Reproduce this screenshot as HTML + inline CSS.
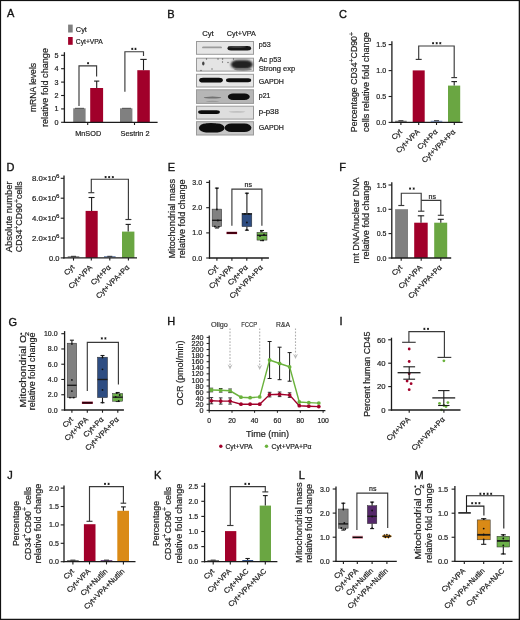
<!DOCTYPE html>
<html><head><meta charset="utf-8"><style>
html,body{margin:0;padding:0;background:#fff;}
body{width:520px;height:620px;overflow:hidden;}
svg{display:block;will-change:transform;font-family:"Liberation Sans", sans-serif;}
text{stroke:#1c1c1c;stroke-width:0.2px;paint-order:stroke;}
</style></head><body>
<svg width="520" height="620" viewBox="0 0 520 620">
<rect x="0" y="0" width="520" height="620" fill="#ffffff"/>
<text transform="translate(7 17.2)" font-size="11" text-anchor="start" fill="#111" style="stroke:#111;stroke-width:0.35px">A</text>
<rect x="68.1" y="24.6" width="4.6" height="7.9" fill="#808080"/>
<rect x="68.1" y="37" width="4.6" height="7.8" fill="#a1002a"/>
<text transform="translate(75.8 31.6)" font-size="7.4" text-anchor="start" fill="#1c1c1c">Cyt</text>
<text transform="translate(75.8 44) scale(0.9104 1)" font-size="7.4" text-anchor="start" fill="#1c1c1c">Cyt+VPA</text>
<line x1="64.4" y1="52.2" x2="64.4" y2="122.9" stroke="#1c1c1c" stroke-width="1.3"/>
<line x1="61.1" y1="122.3" x2="64.4" y2="122.3" stroke="#1c1c1c" stroke-width="1.1"/>
<text transform="translate(58.4 124.89)" font-size="7.2" text-anchor="end" fill="#1c1c1c">0</text>
<line x1="61.1" y1="108.9" x2="64.4" y2="108.9" stroke="#1c1c1c" stroke-width="1.1"/>
<text transform="translate(58.4 111.49)" font-size="7.2" text-anchor="end" fill="#1c1c1c">1</text>
<line x1="61.1" y1="95.5" x2="64.4" y2="95.5" stroke="#1c1c1c" stroke-width="1.1"/>
<text transform="translate(58.4 98.09)" font-size="7.2" text-anchor="end" fill="#1c1c1c">2</text>
<line x1="61.1" y1="82.1" x2="64.4" y2="82.1" stroke="#1c1c1c" stroke-width="1.1"/>
<text transform="translate(58.4 84.69)" font-size="7.2" text-anchor="end" fill="#1c1c1c">3</text>
<line x1="61.1" y1="68.7" x2="64.4" y2="68.7" stroke="#1c1c1c" stroke-width="1.1"/>
<text transform="translate(58.4 71.29)" font-size="7.2" text-anchor="end" fill="#1c1c1c">4</text>
<line x1="61.1" y1="55.3" x2="64.4" y2="55.3" stroke="#1c1c1c" stroke-width="1.1"/>
<text transform="translate(58.4 57.89)" font-size="7.2" text-anchor="end" fill="#1c1c1c">5</text>
<text transform="translate(36.3 87.5) rotate(-90) scale(0.9551 1)" font-size="9" text-anchor="middle" fill="#1c1c1c">mRNA levels</text>
<text transform="translate(48.2 87.5) rotate(-90) scale(1.0120 1)" font-size="9" text-anchor="middle" fill="#1c1c1c">relative fold change</text>
<rect x="73.2" y="108.3" width="12.4" height="14" fill="#808080"/>
<rect x="90.2" y="88" width="12.9" height="34.3" fill="#a1002a"/>
<rect x="120" y="108.3" width="12.4" height="14" fill="#808080"/>
<rect x="137.3" y="70.2" width="12.5" height="52.1" fill="#a1002a"/>
<line x1="75" y1="108.3" x2="84" y2="108.3" stroke="#333" stroke-width="0.8"/>
<line x1="122" y1="108.3" x2="131" y2="108.3" stroke="#333" stroke-width="0.8"/>
<line x1="96.7" y1="88" x2="96.7" y2="81.1" stroke="#1c1c1c" stroke-width="1.1"/>
<line x1="94.1" y1="81.1" x2="99.3" y2="81.1" stroke="#1c1c1c" stroke-width="1.1"/>
<line x1="143.5" y1="70.2" x2="143.5" y2="59.4" stroke="#1c1c1c" stroke-width="1.1"/>
<line x1="140.3" y1="59.4" x2="146.7" y2="59.4" stroke="#1c1c1c" stroke-width="1.1"/>
<polyline points="79,106 79,65.8 96.6,65.8 96.6,76.5" fill="none" stroke="#3a3a3a" stroke-width="1.15" stroke-linejoin="miter"/>
<path d="M88.1 62.1 l0 2.2 M87.15 62.65 l1.9 1.1 M89.05 62.65 l-1.9 1.1" stroke="#1a1a1a" stroke-width="0.9"/>
<polyline points="124.9,91.7 124.9,51.7 143.5,51.7 143.5,56" fill="none" stroke="#3a3a3a" stroke-width="1.15" stroke-linejoin="miter"/>
<path d="M132.3 47.8 l0 2.2 M131.35 48.35 l1.9 1.1 M133.25 48.35 l-1.9 1.1" stroke="#1a1a1a" stroke-width="0.9"/>
<path d="M135.5 47.8 l0 2.2 M134.55 48.35 l1.9 1.1 M136.45 48.35 l-1.9 1.1" stroke="#1a1a1a" stroke-width="0.9"/>
<line x1="63.8" y1="122.3" x2="157.6" y2="122.3" stroke="#1c1c1c" stroke-width="1.3"/>
<line x1="87.7" y1="122.3" x2="87.7" y2="125" stroke="#1c1c1c" stroke-width="1.1"/>
<line x1="134.5" y1="122.3" x2="134.5" y2="125" stroke="#1c1c1c" stroke-width="1.1"/>
<text transform="translate(88.2 136) scale(0.9624 1)" font-size="7.6" text-anchor="middle" fill="#1c1c1c">MnSOD</text>
<text transform="translate(135 136) scale(0.9677 1)" font-size="7.6" text-anchor="middle" fill="#1c1c1c">Sestrin 2</text>
<text transform="translate(167.3 17.6)" font-size="11" text-anchor="start" fill="#111" style="stroke:#111;stroke-width:0.35px">B</text>
<text transform="translate(208 36.2) scale(1.0366 1)" font-size="7.4" text-anchor="middle" fill="#1c1c1c">Cyt</text>
<text transform="translate(241.3 36.2) scale(0.9779 1)" font-size="7.4" text-anchor="middle" fill="#1c1c1c">Cyt+VPA</text>
<rect x="196.5" y="41.5" width="57" height="12.8" fill="#e6e6e6" stroke="#9a9a9a" stroke-width="1"/>
<rect x="196.5" y="58.2" width="57" height="12.9" fill="#e4e4e4" stroke="#9a9a9a" stroke-width="1"/>
<rect x="196.5" y="74.3" width="57" height="12.7" fill="#e6e6e6" stroke="#9a9a9a" stroke-width="1"/>
<rect x="196.5" y="89.8" width="57" height="13.6" fill="#b6b6b6" stroke="#9a9a9a" stroke-width="1"/>
<rect x="196.5" y="106.2" width="57" height="12.9" fill="#dedede" stroke="#9a9a9a" stroke-width="1"/>
<rect x="196.5" y="121.7" width="57" height="13.3" fill="#c6c6c6" stroke="#9a9a9a" stroke-width="1"/>
<defs><filter id="bl" x="-50%" y="-50%" width="200%" height="200%"><feGaussianBlur stdDeviation="0.7"/></filter><filter id="bl2" x="-50%" y="-50%" width="200%" height="200%"><feGaussianBlur stdDeviation="1.1"/></filter></defs>
<rect x="202" y="46.5" width="20" height="1.8" rx="1.44" fill="#8a8a8a" opacity="0.8" filter="url(#bl)"/>
<rect x="227.5" y="46.1" width="23.6" height="4.4" rx="3.52" fill="#161616" opacity="1" filter="url(#bl)"/>
<ellipse cx="237" cy="46.9" rx="9" ry="0.9" fill="#555" opacity="0.8" filter="url(#bl)"/>
<rect x="230.8" y="60" width="22" height="9.2" rx="7.36" fill="#222222" opacity="1" filter="url(#bl2)"/>
<ellipse cx="243" cy="69.3" rx="9" ry="1.4" fill="#777" opacity="0.8" filter="url(#bl)"/>
<ellipse cx="203.3" cy="63.5" rx="1.2" ry="2" fill="#333" opacity="0.9" filter="url(#bl)"/>
<ellipse cx="206.5" cy="59" rx="0.7" ry="0.7" fill="#444" opacity="0.8" filter="url(#bl)"/>
<ellipse cx="218" cy="59" rx="0.7" ry="0.7" fill="#444" opacity="0.8" filter="url(#bl)"/>
<ellipse cx="222.6" cy="59" rx="0.7" ry="0.7" fill="#444" opacity="0.8" filter="url(#bl)"/>
<ellipse cx="233.5" cy="59" rx="0.7" ry="0.7" fill="#444" opacity="0.8" filter="url(#bl)"/>
<ellipse cx="222.5" cy="62" rx="0.7" ry="0.7" fill="#444" opacity="0.8" filter="url(#bl)"/>
<ellipse cx="228" cy="62.5" rx="0.7" ry="0.7" fill="#444" opacity="0.8" filter="url(#bl)"/>
<ellipse cx="201" cy="70.5" rx="0.7" ry="0.7" fill="#444" opacity="0.8" filter="url(#bl)"/>
<ellipse cx="212" cy="69" rx="0.7" ry="0.7" fill="#444" opacity="0.8" filter="url(#bl)"/>
<rect x="199.2" y="77.8" width="23.6" height="4.8" rx="3.84" fill="#0a0a0a" opacity="1" filter="url(#bl)"/>
<rect x="226" y="78.3" width="25.2" height="3.9" rx="3.12" fill="#0a0a0a" opacity="1" filter="url(#bl)"/>
<ellipse cx="212.5" cy="97.6" rx="8.8" ry="1" fill="#6a6a6a" opacity="0.9" filter="url(#bl)"/>
<ellipse cx="212.5" cy="101.3" rx="7" ry="0.6" fill="#888" opacity="0.6" filter="url(#bl)"/>
<rect x="227.9" y="93.6" width="21.8" height="6.4" rx="5.12" fill="#080808" opacity="1" filter="url(#bl)"/>
<rect x="198.1" y="110.2" width="21.8" height="3.8" rx="3.04" fill="#101010" opacity="1" filter="url(#bl)"/>
<ellipse cx="237" cy="111.8" rx="8.5" ry="0.9" fill="#bdbdbd" opacity="0.9" filter="url(#bl)"/>
<rect x="198.9" y="123.4" width="25.6" height="9" rx="7.2" fill="#0c0c0c" opacity="1" filter="url(#bl)"/>
<rect x="224.6" y="123.5" width="26.8" height="8.6" rx="6.88" fill="#0c0c0c" opacity="1" filter="url(#bl)"/>
<ellipse cx="211" cy="124.6" rx="6" ry="1.5" fill="#0c0c0c" opacity="1" filter="url(#bl)"/>
<text transform="translate(258.8 47.3) scale(1.0000 1)" font-size="7.2" text-anchor="start" fill="#1c1c1c">p53</text>
<text transform="translate(258.8 61.6) scale(1.0004 1)" font-size="7.2" text-anchor="start" fill="#1c1c1c">Ac p53</text>
<text transform="translate(258.8 71.4) scale(1.0470 1)" font-size="7.2" text-anchor="start" fill="#1c1c1c">Strong exp</text>
<text transform="translate(258.8 83.8) scale(0.9780 1)" font-size="7.2" text-anchor="start" fill="#1c1c1c">GAPDH</text>
<text transform="translate(258.8 98) scale(0.9667 1)" font-size="7.2" text-anchor="start" fill="#1c1c1c">p21</text>
<text transform="translate(258.8 113.8) scale(1.0875 1)" font-size="7.2" text-anchor="start" fill="#1c1c1c">p-p38</text>
<text transform="translate(258.8 130.3) scale(0.9780 1)" font-size="7.2" text-anchor="start" fill="#1c1c1c">GAPDH</text>
<text transform="translate(339 18)" font-size="11" text-anchor="start" fill="#111" style="stroke:#111;stroke-width:0.35px">C</text>
<line x1="391.9" y1="41.3" x2="391.9" y2="122.9" stroke="#1c1c1c" stroke-width="1.3"/>
<line x1="388.6" y1="122.4" x2="391.9" y2="122.4" stroke="#1c1c1c" stroke-width="1.1"/>
<text transform="translate(386.1 124.92)" font-size="7" text-anchor="end" fill="#1c1c1c">0.0</text>
<line x1="388.6" y1="96.5" x2="391.9" y2="96.5" stroke="#1c1c1c" stroke-width="1.1"/>
<text transform="translate(386.1 99.02)" font-size="7" text-anchor="end" fill="#1c1c1c">0.5</text>
<line x1="388.6" y1="70.6" x2="391.9" y2="70.6" stroke="#1c1c1c" stroke-width="1.1"/>
<text transform="translate(386.1 73.12)" font-size="7" text-anchor="end" fill="#1c1c1c">1.0</text>
<line x1="388.6" y1="44.6" x2="391.9" y2="44.6" stroke="#1c1c1c" stroke-width="1.1"/>
<text transform="translate(386.1 47.12)" font-size="7" text-anchor="end" fill="#1c1c1c">1.5</text>
<text transform="translate(357.3 82.1) rotate(-90) scale(0.9983 1)" font-size="8.8" text-anchor="middle" fill="#1c1c1c"><tspan font-size="8.8" dy="0">Percentage CD34</tspan><tspan font-size="6.86" dy="-3.17">+</tspan><tspan font-size="8.8" dy="3.17">CD90</tspan><tspan font-size="6.86" dy="-3.17">+</tspan></text>
<text transform="translate(369.3 82.1) rotate(-90) scale(1.0369 1)" font-size="8.8" text-anchor="middle" fill="#1c1c1c">cells relative fold change</text>
<rect x="395.1" y="120.8" width="11.6" height="0.9" fill="#555"/>
<line x1="398.4" y1="120.7" x2="403.4" y2="120.7" stroke="#222" stroke-width="0.9"/>
<rect x="412.7" y="70.4" width="12" height="52" fill="#a1002a"/>
<rect x="430.7" y="120.8" width="11.6" height="0.9" fill="#6080c0"/>
<line x1="434" y1="120.7" x2="439" y2="120.7" stroke="#222" stroke-width="0.9"/>
<rect x="448" y="85.6" width="12.2" height="36.8" fill="#6aa642"/>
<line x1="454.2" y1="85.6" x2="454.2" y2="81.6" stroke="#1c1c1c" stroke-width="1.1"/>
<line x1="451.4" y1="81.6" x2="457" y2="81.6" stroke="#1c1c1c" stroke-width="1.1"/>
<polyline points="418.7,59.4 418.7,46 454.2,46 454.2,77.6" fill="none" stroke="#3a3a3a" stroke-width="1.15" stroke-linejoin="miter"/>
<line x1="415.7" y1="59.4" x2="421.7" y2="59.4" stroke="#3a3a3a" stroke-width="1.15"/>
<line x1="451.3" y1="77.6" x2="457.1" y2="77.6" stroke="#3a3a3a" stroke-width="1.15"/>
<path d="M433.1 42.1 l0 2.2 M432.15 42.65 l1.9 1.1 M434.05 42.65 l-1.9 1.1" stroke="#1a1a1a" stroke-width="0.9"/>
<path d="M436.7 42.1 l0 2.2 M435.75 42.65 l1.9 1.1 M437.65 42.65 l-1.9 1.1" stroke="#1a1a1a" stroke-width="0.9"/>
<path d="M440.3 42.1 l0 2.2 M439.35 42.65 l1.9 1.1 M441.25 42.65 l-1.9 1.1" stroke="#1a1a1a" stroke-width="0.9"/>
<line x1="391.3" y1="122.3" x2="462.6" y2="122.3" stroke="#1c1c1c" stroke-width="1.3"/>
<line x1="400.9" y1="122.3" x2="400.9" y2="125" stroke="#1c1c1c" stroke-width="1.1"/>
<line x1="418.7" y1="122.3" x2="418.7" y2="125" stroke="#1c1c1c" stroke-width="1.1"/>
<line x1="436.5" y1="122.3" x2="436.5" y2="125" stroke="#1c1c1c" stroke-width="1.1"/>
<line x1="454.3" y1="122.3" x2="454.3" y2="125" stroke="#1c1c1c" stroke-width="1.1"/>
<text transform="translate(402.4 132.3) rotate(-45)" font-size="7.5" text-anchor="end" fill="#1c1c1c">Cyt</text>
<text transform="translate(420.2 132.3) rotate(-45)" font-size="7.5" text-anchor="end" fill="#1c1c1c">Cyt+VPA</text>
<text transform="translate(438 132.3) rotate(-45)" font-size="7.5" text-anchor="end" fill="#1c1c1c">Cyt+P&#945;</text>
<text transform="translate(455.8 132.3) rotate(-45)" font-size="7.5" text-anchor="end" fill="#1c1c1c">Cyt+VPA+P&#945;</text>
<text transform="translate(6.6 171.3)" font-size="11" text-anchor="start" fill="#111" style="stroke:#111;stroke-width:0.35px">D</text>
<line x1="64" y1="175.6" x2="64" y2="258.5" stroke="#1c1c1c" stroke-width="1.3"/>
<line x1="60.7" y1="257.9" x2="64" y2="257.9" stroke="#1c1c1c" stroke-width="1.1"/>
<line x1="60.7" y1="238.1" x2="64" y2="238.1" stroke="#1c1c1c" stroke-width="1.1"/>
<line x1="60.7" y1="218.2" x2="64" y2="218.2" stroke="#1c1c1c" stroke-width="1.1"/>
<line x1="60.7" y1="198.2" x2="64" y2="198.2" stroke="#1c1c1c" stroke-width="1.1"/>
<line x1="60.7" y1="178.3" x2="64" y2="178.3" stroke="#1c1c1c" stroke-width="1.1"/>
<text transform="translate(59.5 260.6)" font-size="7.5" text-anchor="end" fill="#1c1c1c">0.0</text>
<text transform="translate(59.5 240.8) scale(1.0446 1)" font-size="7.5" text-anchor="end" fill="#1c1c1c"><tspan font-size="7.5" dy="0">2.0&#215;10</tspan><tspan font-size="5.85" dy="-2.7">6</tspan></text>
<text transform="translate(59.5 220.9) scale(1.0446 1)" font-size="7.5" text-anchor="end" fill="#1c1c1c"><tspan font-size="7.5" dy="0">4.0&#215;10</tspan><tspan font-size="5.85" dy="-2.7">6</tspan></text>
<text transform="translate(59.5 200.9) scale(1.0446 1)" font-size="7.5" text-anchor="end" fill="#1c1c1c"><tspan font-size="7.5" dy="0">6.0&#215;10</tspan><tspan font-size="5.85" dy="-2.7">6</tspan></text>
<text transform="translate(59.5 181) scale(1.0446 1)" font-size="7.5" text-anchor="end" fill="#1c1c1c"><tspan font-size="7.5" dy="0">8.0&#215;10</tspan><tspan font-size="5.85" dy="-2.7">6</tspan></text>
<text transform="translate(11.6 216.8) rotate(-90) scale(1.0674 1)" font-size="8.8" text-anchor="middle" fill="#1c1c1c">Absolute number</text>
<text transform="translate(22.2 216.8) rotate(-90) scale(1.0051 1)" font-size="8.8" text-anchor="middle" fill="#1c1c1c"><tspan font-size="8.8" dy="0">CD34</tspan><tspan font-size="6.86" dy="-3.17">+</tspan><tspan font-size="8.8" dy="3.17">CD90</tspan><tspan font-size="6.86" dy="-3.17">+</tspan><tspan font-size="8.8" dy="3.17">cells</tspan></text>
<rect x="67.7" y="256.4" width="11.6" height="0.9" fill="#555"/>
<line x1="71" y1="256.3" x2="76" y2="256.3" stroke="#222" stroke-width="0.9"/>
<rect x="85.6" y="210.9" width="12.1" height="47" fill="#a1002a"/>
<rect x="104" y="256.4" width="11.6" height="0.9" fill="#2e4d82"/>
<line x1="107.3" y1="256.3" x2="112.3" y2="256.3" stroke="#222" stroke-width="0.9"/>
<rect x="122" y="231.6" width="12.4" height="26.3" fill="#6aa642"/>
<line x1="91.6" y1="210.9" x2="91.6" y2="197.5" stroke="#1c1c1c" stroke-width="1.1"/>
<line x1="88.6" y1="197.5" x2="94.6" y2="197.5" stroke="#1c1c1c" stroke-width="1.1"/>
<line x1="128.2" y1="231.6" x2="128.2" y2="224.4" stroke="#1c1c1c" stroke-width="1.1"/>
<line x1="125.6" y1="224.4" x2="130.8" y2="224.4" stroke="#1c1c1c" stroke-width="1.1"/>
<polyline points="91.3,192.7 91.3,179.2 128.4,179.2 128.4,219.5" fill="none" stroke="#3a3a3a" stroke-width="1.15" stroke-linejoin="miter"/>
<line x1="88.3" y1="192.7" x2="94.3" y2="192.7" stroke="#3a3a3a" stroke-width="1.15"/>
<line x1="125.4" y1="219.5" x2="131.4" y2="219.5" stroke="#3a3a3a" stroke-width="1.15"/>
<path d="M105.6 176 l0 2.2 M104.65 176.55 l1.9 1.1 M106.55 176.55 l-1.9 1.1" stroke="#1a1a1a" stroke-width="0.9"/>
<path d="M109.2 176 l0 2.2 M108.25 176.55 l1.9 1.1 M110.15 176.55 l-1.9 1.1" stroke="#1a1a1a" stroke-width="0.9"/>
<path d="M112.8 176 l0 2.2 M111.85 176.55 l1.9 1.1 M113.75 176.55 l-1.9 1.1" stroke="#1a1a1a" stroke-width="0.9"/>
<line x1="63.4" y1="257.9" x2="137" y2="257.9" stroke="#1c1c1c" stroke-width="1.3"/>
<line x1="73.5" y1="257.9" x2="73.5" y2="260.6" stroke="#1c1c1c" stroke-width="1.1"/>
<line x1="91.3" y1="257.9" x2="91.3" y2="260.6" stroke="#1c1c1c" stroke-width="1.1"/>
<line x1="109.8" y1="257.9" x2="109.8" y2="260.6" stroke="#1c1c1c" stroke-width="1.1"/>
<line x1="128.4" y1="257.9" x2="128.4" y2="260.6" stroke="#1c1c1c" stroke-width="1.1"/>
<text transform="translate(75 267.9) rotate(-45)" font-size="7.5" text-anchor="end" fill="#1c1c1c">Cyt</text>
<text transform="translate(92.8 267.9) rotate(-45)" font-size="7.5" text-anchor="end" fill="#1c1c1c">Cyt+VPA</text>
<text transform="translate(111.3 267.9) rotate(-45)" font-size="7.5" text-anchor="end" fill="#1c1c1c">Cyt+P&#945;</text>
<text transform="translate(129.9 267.9) rotate(-45)" font-size="7.5" text-anchor="end" fill="#1c1c1c">Cyt+VPA+P&#945;</text>
<text transform="translate(167.8 170.6)" font-size="11" text-anchor="start" fill="#111" style="stroke:#111;stroke-width:0.35px">E</text>
<line x1="209.5" y1="180.2" x2="209.5" y2="258.6" stroke="#1c1c1c" stroke-width="1.3"/>
<line x1="206.2" y1="258" x2="209.5" y2="258" stroke="#1c1c1c" stroke-width="1.1"/>
<text transform="translate(202.1 260.52)" font-size="7" text-anchor="end" fill="#1c1c1c">0.0</text>
<line x1="206.2" y1="232.9" x2="209.5" y2="232.9" stroke="#1c1c1c" stroke-width="1.1"/>
<text transform="translate(202.1 235.42)" font-size="7" text-anchor="end" fill="#1c1c1c">1.0</text>
<line x1="206.2" y1="207.7" x2="209.5" y2="207.7" stroke="#1c1c1c" stroke-width="1.1"/>
<text transform="translate(202.1 210.22)" font-size="7" text-anchor="end" fill="#1c1c1c">2.0</text>
<line x1="206.2" y1="182.4" x2="209.5" y2="182.4" stroke="#1c1c1c" stroke-width="1.1"/>
<text transform="translate(202.1 184.92)" font-size="7" text-anchor="end" fill="#1c1c1c">3.0</text>
<text transform="translate(174.6 218.8) rotate(-90) scale(1.0530 1)" font-size="8.8" text-anchor="middle" fill="#1c1c1c">Mitochondrial mass</text>
<text transform="translate(185.3 218.8) rotate(-90) scale(1.0354 1)" font-size="8.8" text-anchor="middle" fill="#1c1c1c">relative fold change</text>
<line x1="216.9" y1="188.1" x2="216.9" y2="209.1" stroke="#1c1c1c" stroke-width="1.1"/>
<line x1="216.9" y1="226.6" x2="216.9" y2="228" stroke="#1c1c1c" stroke-width="1.1"/>
<line x1="214.9" y1="188.1" x2="218.9" y2="188.1" stroke="#1c1c1c" stroke-width="1.1"/>
<line x1="214.9" y1="228" x2="218.9" y2="228" stroke="#1c1c1c" stroke-width="1.1"/>
<rect x="212.1" y="209.1" width="9.6" height="17.5" fill="#808080" stroke="#2a2a2a" stroke-width="0.5"/>
<line x1="212.1" y1="220.3" x2="221.7" y2="220.3" stroke="#1c1c1c" stroke-width="1.4"/>
<circle cx="216.9" cy="188.3" r="0.9" fill="#111"/>
<circle cx="216.9" cy="209.5" r="0.9" fill="#111"/>
<circle cx="214.9" cy="226.5" r="0.9" fill="#111"/>
<circle cx="218.9" cy="226.8" r="0.9" fill="#111"/>
<circle cx="217.9" cy="220.5" r="0.9" fill="#111"/>
<rect x="226.5" y="231.8" width="10.6" height="2.3" fill="#7a0020"/>
<line x1="227" y1="232.9" x2="236.6" y2="232.9" stroke="#2a0008" stroke-width="1.3"/>
<line x1="246.9" y1="193.2" x2="246.9" y2="213.5" stroke="#1c1c1c" stroke-width="1.1"/>
<line x1="246.9" y1="226.6" x2="246.9" y2="230.2" stroke="#1c1c1c" stroke-width="1.1"/>
<line x1="244.9" y1="193.2" x2="248.9" y2="193.2" stroke="#1c1c1c" stroke-width="1.1"/>
<line x1="244.9" y1="230.2" x2="248.9" y2="230.2" stroke="#1c1c1c" stroke-width="1.1"/>
<rect x="242" y="213.5" width="9.8" height="13.1" fill="#2e4d82" stroke="#2a2a2a" stroke-width="0.5"/>
<line x1="242" y1="214" x2="251.8" y2="214" stroke="#1c1c1c" stroke-width="1.4"/>
<circle cx="246.9" cy="193.4" r="0.9" fill="#111"/>
<circle cx="244.9" cy="213.8" r="0.9" fill="#111"/>
<circle cx="248.9" cy="213.8" r="0.9" fill="#111"/>
<circle cx="246.9" cy="222.5" r="0.9" fill="#111"/>
<circle cx="246.9" cy="229.8" r="0.9" fill="#111"/>
<line x1="262" y1="230.5" x2="262" y2="232.4" stroke="#1c1c1c" stroke-width="1.1"/>
<line x1="262" y1="240.1" x2="262" y2="240.6" stroke="#1c1c1c" stroke-width="1.1"/>
<line x1="260" y1="230.5" x2="264" y2="230.5" stroke="#1c1c1c" stroke-width="1.1"/>
<line x1="260" y1="240.6" x2="264" y2="240.6" stroke="#1c1c1c" stroke-width="1.1"/>
<rect x="257" y="232.4" width="10" height="7.7" fill="#6cb04a" stroke="#2a2a2a" stroke-width="0.5"/>
<line x1="257" y1="235.3" x2="267" y2="235.3" stroke="#1c1c1c" stroke-width="1.4"/>
<circle cx="261" cy="231" r="0.9" fill="#111"/>
<circle cx="263" cy="240.3" r="0.9" fill="#111"/>
<circle cx="260" cy="236" r="0.9" fill="#111"/>
<circle cx="264" cy="234.5" r="0.9" fill="#111"/>
<polyline points="231.9,225.8 231.9,189.1 261.9,189.1 261.9,225.8" fill="none" stroke="#3a3a3a" stroke-width="1.15" stroke-linejoin="miter"/>
<text transform="translate(248.2 187.3)" font-size="7" text-anchor="middle" fill="#1c1c1c">ns</text>
<line x1="208.9" y1="258" x2="268.9" y2="258" stroke="#1c1c1c" stroke-width="1.3"/>
<line x1="216.9" y1="258" x2="216.9" y2="260.7" stroke="#1c1c1c" stroke-width="1.1"/>
<line x1="231.9" y1="258" x2="231.9" y2="260.7" stroke="#1c1c1c" stroke-width="1.1"/>
<line x1="246.8" y1="258" x2="246.8" y2="260.7" stroke="#1c1c1c" stroke-width="1.1"/>
<line x1="261.9" y1="258" x2="261.9" y2="260.7" stroke="#1c1c1c" stroke-width="1.1"/>
<text transform="translate(218.4 268) rotate(-45)" font-size="7.5" text-anchor="end" fill="#1c1c1c">Cyt</text>
<text transform="translate(233.4 268) rotate(-45)" font-size="7.5" text-anchor="end" fill="#1c1c1c">Cyt+VPA</text>
<text transform="translate(248.3 268) rotate(-45)" font-size="7.5" text-anchor="end" fill="#1c1c1c">Cyt+P&#945;</text>
<text transform="translate(263.4 268) rotate(-45)" font-size="7.5" text-anchor="end" fill="#1c1c1c">Cyt+VPA+P&#945;</text>
<text transform="translate(339.2 170.6)" font-size="11" text-anchor="start" fill="#111" style="stroke:#111;stroke-width:0.35px">F</text>
<line x1="391.8" y1="182.2" x2="391.8" y2="258.6" stroke="#1c1c1c" stroke-width="1.3"/>
<line x1="388.5" y1="258" x2="391.8" y2="258" stroke="#1c1c1c" stroke-width="1.1"/>
<text transform="translate(386.4 260.52)" font-size="7" text-anchor="end" fill="#1c1c1c">0.0</text>
<line x1="388.5" y1="233.6" x2="391.8" y2="233.6" stroke="#1c1c1c" stroke-width="1.1"/>
<text transform="translate(386.4 236.12)" font-size="7" text-anchor="end" fill="#1c1c1c">0.5</text>
<line x1="388.5" y1="209.3" x2="391.8" y2="209.3" stroke="#1c1c1c" stroke-width="1.1"/>
<text transform="translate(386.4 211.82)" font-size="7" text-anchor="end" fill="#1c1c1c">1.0</text>
<line x1="388.5" y1="185" x2="391.8" y2="185" stroke="#1c1c1c" stroke-width="1.1"/>
<text transform="translate(386.4 187.52)" font-size="7" text-anchor="end" fill="#1c1c1c">1.5</text>
<text transform="translate(358.6 220.4) rotate(-90) scale(1.0372 1)" font-size="8.8" text-anchor="middle" fill="#1c1c1c">mt DNA/nuclear DNA</text>
<text transform="translate(368.6 220) rotate(-90) scale(1.0354 1)" font-size="8.8" text-anchor="middle" fill="#1c1c1c">relative fold change</text>
<rect x="395.1" y="209.2" width="12.9" height="48.8" fill="#808080"/>
<rect x="414.2" y="222.7" width="13.5" height="35.3" fill="#a1002a"/>
<rect x="434.2" y="222.7" width="13" height="35.3" fill="#6aa642"/>
<line x1="421" y1="222.7" x2="421" y2="215.8" stroke="#1c1c1c" stroke-width="1.1"/>
<line x1="417.8" y1="215.8" x2="424.2" y2="215.8" stroke="#1c1c1c" stroke-width="1.1"/>
<line x1="440.8" y1="222.7" x2="440.8" y2="219.3" stroke="#1c1c1c" stroke-width="1.1"/>
<line x1="437.8" y1="219.3" x2="443.8" y2="219.3" stroke="#1c1c1c" stroke-width="1.1"/>
<polyline points="401.3,205.5 401.3,193.2 421.2,193.2 421.2,211.2" fill="none" stroke="#3a3a3a" stroke-width="1.15" stroke-linejoin="miter"/>
<line x1="398.3" y1="205.5" x2="404.3" y2="205.5" stroke="#3a3a3a" stroke-width="1.15"/>
<line x1="418" y1="211.2" x2="424.4" y2="211.2" stroke="#3a3a3a" stroke-width="1.15"/>
<polyline points="421.2,200.4 421.2,200.4 440.8,200.4 440.8,215.3" fill="none" stroke="#3a3a3a" stroke-width="1.15" stroke-linejoin="miter"/>
<line x1="437.8" y1="215.3" x2="443.8" y2="215.3" stroke="#3a3a3a" stroke-width="1.15"/>
<path d="M410.1 187.5 l0 2.2 M409.15 188.05 l1.9 1.1 M411.05 188.05 l-1.9 1.1" stroke="#1a1a1a" stroke-width="0.9"/>
<path d="M413.7 187.5 l0 2.2 M412.75 188.05 l1.9 1.1 M414.65 188.05 l-1.9 1.1" stroke="#1a1a1a" stroke-width="0.9"/>
<text transform="translate(432.2 199.2)" font-size="7" text-anchor="middle" fill="#1c1c1c">ns</text>
<line x1="391.2" y1="258" x2="451.2" y2="258" stroke="#1c1c1c" stroke-width="1.3"/>
<line x1="401.2" y1="258" x2="401.2" y2="260.7" stroke="#1c1c1c" stroke-width="1.1"/>
<line x1="421.2" y1="258" x2="421.2" y2="260.7" stroke="#1c1c1c" stroke-width="1.1"/>
<line x1="440.8" y1="258" x2="440.8" y2="260.7" stroke="#1c1c1c" stroke-width="1.1"/>
<text transform="translate(402.7 268) rotate(-45)" font-size="7.5" text-anchor="end" fill="#1c1c1c">Cyt</text>
<text transform="translate(422.7 268) rotate(-45)" font-size="7.5" text-anchor="end" fill="#1c1c1c">Cyt+VPA</text>
<text transform="translate(442.3 268) rotate(-45)" font-size="7.5" text-anchor="end" fill="#1c1c1c">Cyt+VPA+P&#945;</text>
<text transform="translate(8.4 325.6)" font-size="11" text-anchor="start" fill="#111" style="stroke:#111;stroke-width:0.35px">G</text>
<line x1="64.6" y1="331.1" x2="64.6" y2="410.6" stroke="#1c1c1c" stroke-width="1.3"/>
<line x1="61.3" y1="410" x2="64.6" y2="410" stroke="#1c1c1c" stroke-width="1.1"/>
<text transform="translate(57.6 412.52)" font-size="7" text-anchor="end" fill="#1c1c1c">0.0</text>
<line x1="61.3" y1="394.74" x2="64.6" y2="394.74" stroke="#1c1c1c" stroke-width="1.1"/>
<text transform="translate(57.6 397.26)" font-size="7" text-anchor="end" fill="#1c1c1c">2.0</text>
<line x1="61.3" y1="379.48" x2="64.6" y2="379.48" stroke="#1c1c1c" stroke-width="1.1"/>
<text transform="translate(57.6 382)" font-size="7" text-anchor="end" fill="#1c1c1c">4.0</text>
<line x1="61.3" y1="364.22" x2="64.6" y2="364.22" stroke="#1c1c1c" stroke-width="1.1"/>
<text transform="translate(57.6 366.74)" font-size="7" text-anchor="end" fill="#1c1c1c">6.0</text>
<line x1="61.3" y1="348.96" x2="64.6" y2="348.96" stroke="#1c1c1c" stroke-width="1.1"/>
<text transform="translate(57.6 351.48)" font-size="7" text-anchor="end" fill="#1c1c1c">8.0</text>
<line x1="61.3" y1="333.7" x2="64.6" y2="333.7" stroke="#1c1c1c" stroke-width="1.1"/>
<text transform="translate(57.6 336.22)" font-size="7" text-anchor="end" fill="#1c1c1c">10.0</text>
<text transform="translate(25.7 369.6) rotate(-90) scale(1.1750 1)" font-size="8.8" text-anchor="middle" fill="#1c1c1c">Mitochondrial O<tspan font-size="6.2" dy="-3.2">&#8226;</tspan><tspan font-size="6.2" dx="-2.9" dy="6.4">2</tspan></text>
<text transform="translate(35.4 371.4) rotate(-90) scale(1.0223 1)" font-size="8.8" text-anchor="middle" fill="#1c1c1c">relative fold change</text>
<line x1="71.9" y1="340.2" x2="71.9" y2="343.2" stroke="#1c1c1c" stroke-width="1.1"/>
<line x1="71.9" y1="397.6" x2="71.9" y2="397.6" stroke="#1c1c1c" stroke-width="1.1"/>
<line x1="69.9" y1="340.2" x2="73.9" y2="340.2" stroke="#1c1c1c" stroke-width="1.1"/>
<line x1="69.9" y1="397.6" x2="73.9" y2="397.6" stroke="#1c1c1c" stroke-width="1.1"/>
<rect x="67.2" y="343.2" width="9.4" height="54.4" fill="#808080" stroke="#2a2a2a" stroke-width="0.5"/>
<line x1="67.2" y1="385.3" x2="76.6" y2="385.3" stroke="#1c1c1c" stroke-width="1.4"/>
<circle cx="71.9" cy="343.9" r="0.9" fill="#111"/>
<circle cx="71.9" cy="379.9" r="0.9" fill="#111"/>
<circle cx="71.9" cy="391.1" r="0.9" fill="#111"/>
<circle cx="69.9" cy="397.6" r="0.9" fill="#111"/>
<circle cx="73.9" cy="397.6" r="0.9" fill="#111"/>
<rect x="81.9" y="401.6" width="10.9" height="2.3" fill="#7a0020"/>
<line x1="82.4" y1="402.8" x2="92.4" y2="402.8" stroke="#1a0006" stroke-width="1.3"/>
<line x1="102.5" y1="355.5" x2="102.5" y2="357.2" stroke="#1c1c1c" stroke-width="1.1"/>
<line x1="102.5" y1="397.6" x2="102.5" y2="402.7" stroke="#1c1c1c" stroke-width="1.1"/>
<line x1="100.5" y1="355.5" x2="104.5" y2="355.5" stroke="#1c1c1c" stroke-width="1.1"/>
<line x1="100.5" y1="402.7" x2="104.5" y2="402.7" stroke="#1c1c1c" stroke-width="1.1"/>
<rect x="97.5" y="357.2" width="10" height="40.4" fill="#2e4d82" stroke="#2a2a2a" stroke-width="0.5"/>
<line x1="97.5" y1="379.5" x2="107.5" y2="379.5" stroke="#1c1c1c" stroke-width="1.4"/>
<circle cx="102.5" cy="357.5" r="0.9" fill="#111"/>
<circle cx="102.5" cy="369.3" r="0.9" fill="#111"/>
<circle cx="102.5" cy="389.9" r="0.9" fill="#111"/>
<circle cx="102.5" cy="402.5" r="0.9" fill="#111"/>
<line x1="117.7" y1="392.5" x2="117.7" y2="393.5" stroke="#1c1c1c" stroke-width="1.1"/>
<line x1="117.7" y1="401.2" x2="117.7" y2="401.5" stroke="#1c1c1c" stroke-width="1.1"/>
<line x1="115.7" y1="392.5" x2="119.7" y2="392.5" stroke="#1c1c1c" stroke-width="1.1"/>
<line x1="115.7" y1="401.5" x2="119.7" y2="401.5" stroke="#1c1c1c" stroke-width="1.1"/>
<rect x="112.7" y="393.5" width="10" height="7.7" fill="#6cb04a" stroke="#2a2a2a" stroke-width="0.5"/>
<line x1="112.7" y1="397.2" x2="122.7" y2="397.2" stroke="#1c1c1c" stroke-width="1.4"/>
<circle cx="116.7" cy="393" r="0.9" fill="#111"/>
<circle cx="118.7" cy="401" r="0.9" fill="#111"/>
<circle cx="115.7" cy="397" r="0.9" fill="#111"/>
<circle cx="119.7" cy="395" r="0.9" fill="#111"/>
<polyline points="87.3,391 87.3,342.4 118.4,342.4 118.4,384.5" fill="none" stroke="#3a3a3a" stroke-width="1.15" stroke-linejoin="miter"/>
<path d="M101.8 337.3 l0 2.2 M100.85 337.85 l1.9 1.1 M102.75 337.85 l-1.9 1.1" stroke="#1a1a1a" stroke-width="0.9"/>
<path d="M105.4 337.3 l0 2.2 M104.45 337.85 l1.9 1.1 M106.35 337.85 l-1.9 1.1" stroke="#1a1a1a" stroke-width="0.9"/>
<line x1="64" y1="410" x2="123.9" y2="410" stroke="#1c1c1c" stroke-width="1.3"/>
<line x1="71.9" y1="410" x2="71.9" y2="412.7" stroke="#1c1c1c" stroke-width="1.1"/>
<line x1="87.3" y1="410" x2="87.3" y2="412.7" stroke="#1c1c1c" stroke-width="1.1"/>
<line x1="102.5" y1="410" x2="102.5" y2="412.7" stroke="#1c1c1c" stroke-width="1.1"/>
<line x1="117.8" y1="410" x2="117.8" y2="412.7" stroke="#1c1c1c" stroke-width="1.1"/>
<text transform="translate(73.4 420) rotate(-45)" font-size="7.5" text-anchor="end" fill="#1c1c1c">Cyt</text>
<text transform="translate(88.8 420) rotate(-45)" font-size="7.5" text-anchor="end" fill="#1c1c1c">Cyt+VPA</text>
<text transform="translate(104 420) rotate(-45)" font-size="7.5" text-anchor="end" fill="#1c1c1c">Cyt+P&#945;</text>
<text transform="translate(119.3 420) rotate(-45)" font-size="7.5" text-anchor="end" fill="#1c1c1c">Cyt+VPA+P&#945;</text>
<text transform="translate(167.2 325.4)" font-size="11" text-anchor="start" fill="#111" style="stroke:#111;stroke-width:0.35px">H</text>
<line x1="209.2" y1="335.4" x2="209.2" y2="410.8" stroke="#1c1c1c" stroke-width="1.2"/>
<line x1="206.6" y1="410.3" x2="209.2" y2="410.3" stroke="#1c1c1c" stroke-width="1"/>
<text transform="translate(203.4 412.9)" font-size="7.2" text-anchor="end" fill="#1c1c1c">0</text>
<line x1="206.6" y1="404.23" x2="209.2" y2="404.23" stroke="#1c1c1c" stroke-width="1"/>
<text transform="translate(203.4 406.83)" font-size="7.2" text-anchor="end" fill="#1c1c1c">20</text>
<line x1="206.6" y1="398.15" x2="209.2" y2="398.15" stroke="#1c1c1c" stroke-width="1"/>
<text transform="translate(203.4 400.75)" font-size="7.2" text-anchor="end" fill="#1c1c1c">40</text>
<line x1="206.6" y1="392.07" x2="209.2" y2="392.07" stroke="#1c1c1c" stroke-width="1"/>
<text transform="translate(203.4 394.68)" font-size="7.2" text-anchor="end" fill="#1c1c1c">60</text>
<line x1="206.6" y1="386" x2="209.2" y2="386" stroke="#1c1c1c" stroke-width="1"/>
<text transform="translate(203.4 388.6)" font-size="7.2" text-anchor="end" fill="#1c1c1c">80</text>
<line x1="206.6" y1="379.93" x2="209.2" y2="379.93" stroke="#1c1c1c" stroke-width="1"/>
<text transform="translate(203.4 382.53)" font-size="7.2" text-anchor="end" fill="#1c1c1c">100</text>
<line x1="206.6" y1="373.85" x2="209.2" y2="373.85" stroke="#1c1c1c" stroke-width="1"/>
<text transform="translate(203.4 376.45)" font-size="7.2" text-anchor="end" fill="#1c1c1c">120</text>
<line x1="206.6" y1="367.77" x2="209.2" y2="367.77" stroke="#1c1c1c" stroke-width="1"/>
<text transform="translate(203.4 370.38)" font-size="7.2" text-anchor="end" fill="#1c1c1c">140</text>
<line x1="206.6" y1="361.7" x2="209.2" y2="361.7" stroke="#1c1c1c" stroke-width="1"/>
<text transform="translate(203.4 364.3)" font-size="7.2" text-anchor="end" fill="#1c1c1c">160</text>
<line x1="206.6" y1="355.62" x2="209.2" y2="355.62" stroke="#1c1c1c" stroke-width="1"/>
<text transform="translate(203.4 358.23)" font-size="7.2" text-anchor="end" fill="#1c1c1c">180</text>
<line x1="206.6" y1="349.55" x2="209.2" y2="349.55" stroke="#1c1c1c" stroke-width="1"/>
<text transform="translate(203.4 352.15)" font-size="7.2" text-anchor="end" fill="#1c1c1c">200</text>
<line x1="206.6" y1="343.47" x2="209.2" y2="343.47" stroke="#1c1c1c" stroke-width="1"/>
<text transform="translate(203.4 346.07)" font-size="7.2" text-anchor="end" fill="#1c1c1c">220</text>
<line x1="206.6" y1="337.4" x2="209.2" y2="337.4" stroke="#1c1c1c" stroke-width="1"/>
<text transform="translate(203.4 340)" font-size="7.2" text-anchor="end" fill="#1c1c1c">240</text>
<text transform="translate(183 373) rotate(-90) scale(1.0044 1)" font-size="9" text-anchor="middle" fill="#1c1c1c">OCR (pmol/min)</text>
<text transform="translate(219.4 327) scale(1.0402 1)" font-size="7" text-anchor="middle" fill="#1c1c1c" style="stroke-width:0.1px">Oligo</text>
<text transform="translate(249.2 327) scale(0.8393 1)" font-size="7" text-anchor="middle" fill="#1c1c1c" style="stroke-width:0.1px">FCCP</text>
<text transform="translate(283 327) scale(0.9718 1)" font-size="7" text-anchor="middle" fill="#1c1c1c" style="stroke-width:0.1px">R&amp;A</text>
<line x1="230" y1="328.4" x2="230" y2="365" stroke="#b0b0b0" stroke-width="1.1" stroke-dasharray="1.7 1.5"/>
<path d="M227.5 364.3 L230 369.5 L232.5 364.3 L230 366.3 Z" fill="#b8b8b8"/>
<line x1="259.7" y1="328.4" x2="259.7" y2="365.5" stroke="#b0b0b0" stroke-width="1.1" stroke-dasharray="1.7 1.5"/>
<path d="M257.2 364.8 L259.7 370 L262.2 364.8 L259.7 366.8 Z" fill="#b8b8b8"/>
<line x1="295.5" y1="328.4" x2="295.5" y2="354.5" stroke="#b0b0b0" stroke-width="1.1" stroke-dasharray="1.7 1.5"/>
<path d="M293 353.8 L295.5 359 L298 353.8 L295.5 355.8 Z" fill="#b8b8b8"/>
<line x1="211.4" y1="397.6" x2="211.4" y2="397.6" stroke="#1c1c1c" stroke-width="0.9"/>
<line x1="209.6" y1="397.6" x2="213.2" y2="397.6" stroke="#1c1c1c" stroke-width="0.9"/>
<line x1="211.4" y1="403.8" x2="211.4" y2="403.8" stroke="#1c1c1c" stroke-width="0.9"/>
<line x1="209.6" y1="403.8" x2="213.2" y2="403.8" stroke="#1c1c1c" stroke-width="0.9"/>
<line x1="211.4" y1="397.6" x2="211.4" y2="403.8" stroke="#1c1c1c" stroke-width="0.9"/>
<line x1="209.6" y1="388.2" x2="213.2" y2="388.2" stroke="#1c1c1c" stroke-width="0.9"/>
<line x1="209.6" y1="391.8" x2="213.2" y2="391.8" stroke="#1c1c1c" stroke-width="0.9"/>
<line x1="220.7" y1="397.9" x2="220.7" y2="397.9" stroke="#1c1c1c" stroke-width="0.9"/>
<line x1="218.9" y1="397.9" x2="222.5" y2="397.9" stroke="#1c1c1c" stroke-width="0.9"/>
<line x1="220.7" y1="404.1" x2="220.7" y2="404.1" stroke="#1c1c1c" stroke-width="0.9"/>
<line x1="218.9" y1="404.1" x2="222.5" y2="404.1" stroke="#1c1c1c" stroke-width="0.9"/>
<line x1="220.7" y1="397.9" x2="220.7" y2="404.1" stroke="#1c1c1c" stroke-width="0.9"/>
<line x1="218.9" y1="388.5" x2="222.5" y2="388.5" stroke="#1c1c1c" stroke-width="0.9"/>
<line x1="218.9" y1="392.1" x2="222.5" y2="392.1" stroke="#1c1c1c" stroke-width="0.9"/>
<line x1="230.1" y1="397.9" x2="230.1" y2="397.9" stroke="#1c1c1c" stroke-width="0.9"/>
<line x1="228.3" y1="397.9" x2="231.9" y2="397.9" stroke="#1c1c1c" stroke-width="0.9"/>
<line x1="230.1" y1="404.1" x2="230.1" y2="404.1" stroke="#1c1c1c" stroke-width="0.9"/>
<line x1="228.3" y1="404.1" x2="231.9" y2="404.1" stroke="#1c1c1c" stroke-width="0.9"/>
<line x1="230.1" y1="397.9" x2="230.1" y2="404.1" stroke="#1c1c1c" stroke-width="0.9"/>
<line x1="228.3" y1="389" x2="231.9" y2="389" stroke="#1c1c1c" stroke-width="0.9"/>
<line x1="228.3" y1="392.6" x2="231.9" y2="392.6" stroke="#1c1c1c" stroke-width="0.9"/>
<line x1="269.6" y1="392.3" x2="269.6" y2="396.9" stroke="#1c1c1c" stroke-width="0.9"/>
<line x1="267.8" y1="392.3" x2="271.4" y2="392.3" stroke="#1c1c1c" stroke-width="0.9"/>
<line x1="267.8" y1="396.9" x2="271.4" y2="396.9" stroke="#1c1c1c" stroke-width="0.9"/>
<line x1="279.6" y1="392" x2="279.6" y2="396.6" stroke="#1c1c1c" stroke-width="0.9"/>
<line x1="277.8" y1="392" x2="281.4" y2="392" stroke="#1c1c1c" stroke-width="0.9"/>
<line x1="277.8" y1="396.6" x2="281.4" y2="396.6" stroke="#1c1c1c" stroke-width="0.9"/>
<line x1="289.6" y1="392.8" x2="289.6" y2="397.4" stroke="#1c1c1c" stroke-width="0.9"/>
<line x1="287.8" y1="392.8" x2="291.4" y2="392.8" stroke="#1c1c1c" stroke-width="0.9"/>
<line x1="287.8" y1="397.4" x2="291.4" y2="397.4" stroke="#1c1c1c" stroke-width="0.9"/>
<line x1="269.6" y1="341.5" x2="269.6" y2="378.5" stroke="#1c1c1c" stroke-width="1"/>
<line x1="267.6" y1="341.5" x2="271.6" y2="341.5" stroke="#1c1c1c" stroke-width="1"/>
<line x1="267.6" y1="378.5" x2="271.6" y2="378.5" stroke="#1c1c1c" stroke-width="1"/>
<line x1="279.6" y1="347.2" x2="279.6" y2="379.7" stroke="#1c1c1c" stroke-width="1"/>
<line x1="277.6" y1="347.2" x2="281.6" y2="347.2" stroke="#1c1c1c" stroke-width="1"/>
<line x1="277.6" y1="379.7" x2="281.6" y2="379.7" stroke="#1c1c1c" stroke-width="1"/>
<line x1="289.6" y1="352.6" x2="289.6" y2="381.2" stroke="#1c1c1c" stroke-width="1"/>
<line x1="287.6" y1="352.6" x2="291.6" y2="352.6" stroke="#1c1c1c" stroke-width="1"/>
<line x1="287.6" y1="381.2" x2="291.6" y2="381.2" stroke="#1c1c1c" stroke-width="1"/>
<polyline points="211.4,400.8 220.7,401.1 230.1,401.1 241,404.2 250.1,404.2 259.7,404.2 269.6,394.6 279.6,394.3 289.6,395.1 299.3,405.7 308.8,406.2 318.8,406.6" fill="none" stroke="#a1002a" stroke-width="1.4" stroke-linejoin="miter"/>
<polyline points="211.4,390 220.7,390.3 230.1,390.8 241,397.2 250.1,397.7 259.7,396.9 269.6,360 279.6,363.5 289.6,366.9 299.3,402 308.8,402.6 318.8,403.1" fill="none" stroke="#6ab23c" stroke-width="1.4" stroke-linejoin="miter"/>
<circle cx="211.4" cy="400.8" r="1.9" fill="#a1002a"/>
<circle cx="220.7" cy="401.1" r="1.9" fill="#a1002a"/>
<circle cx="230.1" cy="401.1" r="1.9" fill="#a1002a"/>
<circle cx="241" cy="404.2" r="1.9" fill="#a1002a"/>
<circle cx="250.1" cy="404.2" r="1.9" fill="#a1002a"/>
<circle cx="259.7" cy="404.2" r="1.9" fill="#a1002a"/>
<circle cx="269.6" cy="394.6" r="1.9" fill="#a1002a"/>
<circle cx="279.6" cy="394.3" r="1.9" fill="#a1002a"/>
<circle cx="289.6" cy="395.1" r="1.9" fill="#a1002a"/>
<circle cx="299.3" cy="405.7" r="1.9" fill="#a1002a"/>
<circle cx="308.8" cy="406.2" r="1.9" fill="#a1002a"/>
<circle cx="318.8" cy="406.6" r="1.9" fill="#a1002a"/>
<circle cx="211.4" cy="390" r="1.9" fill="#6ab23c"/>
<circle cx="220.7" cy="390.3" r="1.9" fill="#6ab23c"/>
<circle cx="230.1" cy="390.8" r="1.9" fill="#6ab23c"/>
<circle cx="241" cy="397.2" r="1.9" fill="#6ab23c"/>
<circle cx="250.1" cy="397.7" r="1.9" fill="#6ab23c"/>
<circle cx="259.7" cy="396.9" r="1.9" fill="#6ab23c"/>
<circle cx="269.6" cy="360" r="1.9" fill="#6ab23c"/>
<circle cx="279.6" cy="363.5" r="1.9" fill="#6ab23c"/>
<circle cx="289.6" cy="366.9" r="1.9" fill="#6ab23c"/>
<circle cx="299.3" cy="402" r="1.9" fill="#6ab23c"/>
<circle cx="308.8" cy="402.6" r="1.9" fill="#6ab23c"/>
<circle cx="318.8" cy="403.1" r="1.9" fill="#6ab23c"/>
<line x1="208.6" y1="410.7" x2="325.4" y2="410.7" stroke="#1c1c1c" stroke-width="1.2"/>
<line x1="209.2" y1="410.7" x2="209.2" y2="412.8" stroke="#1c1c1c" stroke-width="1"/>
<text transform="translate(209.2 423.2)" font-size="6.8" text-anchor="middle" fill="#1c1c1c">0</text>
<line x1="232" y1="410.7" x2="232" y2="412.8" stroke="#1c1c1c" stroke-width="1"/>
<text transform="translate(232 423.2)" font-size="6.8" text-anchor="middle" fill="#1c1c1c">20</text>
<line x1="254.6" y1="410.7" x2="254.6" y2="412.8" stroke="#1c1c1c" stroke-width="1"/>
<text transform="translate(254.6 423.2)" font-size="6.8" text-anchor="middle" fill="#1c1c1c">40</text>
<line x1="277.4" y1="410.7" x2="277.4" y2="412.8" stroke="#1c1c1c" stroke-width="1"/>
<text transform="translate(277.4 423.2)" font-size="6.8" text-anchor="middle" fill="#1c1c1c">60</text>
<line x1="300.3" y1="410.7" x2="300.3" y2="412.8" stroke="#1c1c1c" stroke-width="1"/>
<text transform="translate(300.3 423.2)" font-size="6.8" text-anchor="middle" fill="#1c1c1c">80</text>
<line x1="323.1" y1="410.7" x2="323.1" y2="412.8" stroke="#1c1c1c" stroke-width="1"/>
<text transform="translate(323.1 423.2)" font-size="6.8" text-anchor="middle" fill="#1c1c1c">100</text>
<text transform="translate(267.5 437.4) scale(0.9651 1)" font-size="9.4" text-anchor="middle" fill="#1c1c1c">Time (min)</text>
<circle cx="220.8" cy="446.2" r="1.7" fill="#a1002a"/>
<text transform="translate(225.4 448.9) scale(0.9435 1)" font-size="7.2" text-anchor="start" fill="#1c1c1c">Cyt+VPA</text>
<circle cx="266.5" cy="446.2" r="1.7" fill="#6ab23c"/>
<text transform="translate(271.5 448.9) scale(0.9527 1)" font-size="7.2" text-anchor="start" fill="#1c1c1c">Cyt+VPA+P&#945;</text>
<text transform="translate(339.6 325.2)" font-size="11" text-anchor="start" fill="#111" style="stroke:#111;stroke-width:0.35px">I</text>
<line x1="391.5" y1="337.7" x2="391.5" y2="410.6" stroke="#1c1c1c" stroke-width="1.3"/>
<line x1="388.2" y1="410" x2="391.5" y2="410" stroke="#1c1c1c" stroke-width="1.1"/>
<text transform="translate(385.6 412.77)" font-size="7.7" text-anchor="end" fill="#1c1c1c">0</text>
<line x1="388.2" y1="386.6" x2="391.5" y2="386.6" stroke="#1c1c1c" stroke-width="1.1"/>
<text transform="translate(385.6 389.37)" font-size="7.7" text-anchor="end" fill="#1c1c1c">20</text>
<line x1="388.2" y1="363.2" x2="391.5" y2="363.2" stroke="#1c1c1c" stroke-width="1.1"/>
<text transform="translate(385.6 365.97)" font-size="7.7" text-anchor="end" fill="#1c1c1c">40</text>
<line x1="388.2" y1="339.8" x2="391.5" y2="339.8" stroke="#1c1c1c" stroke-width="1.1"/>
<text transform="translate(385.6 342.57)" font-size="7.7" text-anchor="end" fill="#1c1c1c">60</text>
<text transform="translate(369.8 374.2) rotate(-90) scale(1.0095 1)" font-size="8.8" text-anchor="middle" fill="#1c1c1c">Percent human CD45</text>
<polyline points="408.9,342.3 408.9,331.6 444.4,331.6 444.4,357.4" fill="none" stroke="#3a3a3a" stroke-width="1.15" stroke-linejoin="miter"/>
<line x1="402.1" y1="342.3" x2="415.7" y2="342.3" stroke="#3a3a3a" stroke-width="1.15"/>
<line x1="437.5" y1="357.4" x2="451.3" y2="357.4" stroke="#3a3a3a" stroke-width="1.15"/>
<path d="M424.4 327.8 l0 2.2 M423.45 328.35 l1.9 1.1 M425.35 328.35 l-1.9 1.1" stroke="#1a1a1a" stroke-width="0.9"/>
<path d="M428 327.8 l0 2.2 M427.05 328.35 l1.9 1.1 M428.95 328.35 l-1.9 1.1" stroke="#1a1a1a" stroke-width="0.9"/>
<circle cx="409.2" cy="349" r="1.4" fill="#a1002a"/>
<circle cx="409.2" cy="361.5" r="1.4" fill="#a1002a"/>
<circle cx="409.2" cy="373.7" r="1.4" fill="#a1002a"/>
<circle cx="407.1" cy="381" r="1.4" fill="#a1002a"/>
<circle cx="411.1" cy="383.7" r="1.4" fill="#a1002a"/>
<circle cx="409.2" cy="389.7" r="1.4" fill="#a1002a"/>
<line x1="397.6" y1="372.7" x2="420.5" y2="372.7" stroke="#1c1c1c" stroke-width="1.3"/>
<line x1="409.2" y1="372.7" x2="409.2" y2="366.8" stroke="#1c1c1c" stroke-width="1.1"/>
<line x1="403.3" y1="366.8" x2="415.1" y2="366.8" stroke="#1c1c1c" stroke-width="1.1"/>
<line x1="409.2" y1="372.7" x2="409.2" y2="379.2" stroke="#1c1c1c" stroke-width="1.1"/>
<line x1="403.3" y1="379.2" x2="415.1" y2="379.2" stroke="#1c1c1c" stroke-width="1.1"/>
<circle cx="443.9" cy="360.8" r="1.4" fill="#6ab23c"/>
<circle cx="439.5" cy="403.4" r="1.4" fill="#6ab23c"/>
<circle cx="443.9" cy="405.5" r="1.4" fill="#6ab23c"/>
<circle cx="446" cy="406.6" r="1.4" fill="#6ab23c"/>
<circle cx="447.9" cy="402.6" r="1.4" fill="#6ab23c"/>
<circle cx="441.5" cy="409.8" r="1.4" fill="#6ab23c"/>
<line x1="432.3" y1="397.9" x2="455.2" y2="397.9" stroke="#1c1c1c" stroke-width="1.3"/>
<line x1="443.8" y1="397.9" x2="443.8" y2="390.6" stroke="#1c1c1c" stroke-width="1.1"/>
<line x1="438.1" y1="390.6" x2="449.5" y2="390.6" stroke="#1c1c1c" stroke-width="1.1"/>
<line x1="443.8" y1="397.9" x2="443.8" y2="405.5" stroke="#1c1c1c" stroke-width="1.1"/>
<line x1="438.1" y1="405.5" x2="449.5" y2="405.5" stroke="#1c1c1c" stroke-width="1.1"/>
<line x1="390.9" y1="410" x2="460.5" y2="410" stroke="#1c1c1c" stroke-width="1.3"/>
<line x1="409.2" y1="410" x2="409.2" y2="412.7" stroke="#1c1c1c" stroke-width="1.1"/>
<line x1="443.9" y1="410" x2="443.9" y2="412.7" stroke="#1c1c1c" stroke-width="1.1"/>
<text transform="translate(410.7 420) rotate(-45)" font-size="7.5" text-anchor="end" fill="#1c1c1c">Cyt+VPA</text>
<text transform="translate(445.4 420) rotate(-45)" font-size="7.5" text-anchor="end" fill="#1c1c1c">Cyt+VPA+P&#945;</text>
<text transform="translate(7.2 479.3)" font-size="11" text-anchor="start" fill="#111" style="stroke:#111;stroke-width:0.35px">J</text>
<line x1="64" y1="485.4" x2="64" y2="562.3" stroke="#1c1c1c" stroke-width="1.3"/>
<line x1="60.7" y1="561.7" x2="64" y2="561.7" stroke="#1c1c1c" stroke-width="1.1"/>
<text transform="translate(58.8 564.22)" font-size="7" text-anchor="end" fill="#1c1c1c">0.0</text>
<line x1="60.7" y1="543.3" x2="64" y2="543.3" stroke="#1c1c1c" stroke-width="1.1"/>
<text transform="translate(58.8 545.82)" font-size="7" text-anchor="end" fill="#1c1c1c">0.5</text>
<line x1="60.7" y1="524.9" x2="64" y2="524.9" stroke="#1c1c1c" stroke-width="1.1"/>
<text transform="translate(58.8 527.42)" font-size="7" text-anchor="end" fill="#1c1c1c">1.0</text>
<line x1="60.7" y1="506.5" x2="64" y2="506.5" stroke="#1c1c1c" stroke-width="1.1"/>
<text transform="translate(58.8 509.02)" font-size="7" text-anchor="end" fill="#1c1c1c">1.5</text>
<line x1="60.7" y1="488.1" x2="64" y2="488.1" stroke="#1c1c1c" stroke-width="1.1"/>
<text transform="translate(58.8 490.62)" font-size="7" text-anchor="end" fill="#1c1c1c">2.0</text>
<text transform="translate(19.3 523.5) rotate(-90) scale(1.0044 1)" font-size="8.8" text-anchor="middle" fill="#1c1c1c">Percentage</text>
<text transform="translate(30.6 523.5) rotate(-90) scale(1.0071 1)" font-size="8.8" text-anchor="middle" fill="#1c1c1c"><tspan font-size="8.8" dy="0">CD34</tspan><tspan font-size="6.86" dy="-3.17">+</tspan><tspan font-size="8.8" dy="3.17">CD90</tspan><tspan font-size="6.86" dy="-3.17">+</tspan><tspan font-size="8.8" dy="3.17"> cells</tspan></text>
<text transform="translate(41.2 523.5) rotate(-90) scale(1.0459 1)" font-size="8.8" text-anchor="middle" fill="#1c1c1c">relative fold change</text>
<rect x="67.1" y="560.2" width="11.6" height="0.9" fill="#555"/>
<line x1="70.4" y1="560.1" x2="75.4" y2="560.1" stroke="#222" stroke-width="0.9"/>
<rect x="83.9" y="524.2" width="11.6" height="37.5" fill="#a1002a"/>
<rect x="100.7" y="560.2" width="11.6" height="0.9" fill="#55286a"/>
<line x1="104" y1="560.1" x2="109" y2="560.1" stroke="#222" stroke-width="0.9"/>
<rect x="117.3" y="510.8" width="11.7" height="50.9" fill="#da8a16"/>
<line x1="123.4" y1="510.8" x2="123.4" y2="506.9" stroke="#1c1c1c" stroke-width="1.1"/>
<line x1="121" y1="506.9" x2="125.8" y2="506.9" stroke="#1c1c1c" stroke-width="1.1"/>
<polyline points="89.5,521.3 89.5,486.6 123.4,486.6 123.4,503.2" fill="none" stroke="#3a3a3a" stroke-width="1.15" stroke-linejoin="miter"/>
<line x1="86.5" y1="521.3" x2="92.5" y2="521.3" stroke="#3a3a3a" stroke-width="1.15"/>
<line x1="120.6" y1="503.2" x2="126.2" y2="503.2" stroke="#3a3a3a" stroke-width="1.15"/>
<path d="M105 482.8 l0 2.2 M104.05 483.35 l1.9 1.1 M105.95 483.35 l-1.9 1.1" stroke="#1a1a1a" stroke-width="0.9"/>
<path d="M108.6 482.8 l0 2.2 M107.65 483.35 l1.9 1.1 M109.55 483.35 l-1.9 1.1" stroke="#1a1a1a" stroke-width="0.9"/>
<line x1="63.4" y1="561.7" x2="135.5" y2="561.7" stroke="#1c1c1c" stroke-width="1.3"/>
<line x1="72.9" y1="561.7" x2="72.9" y2="564.4" stroke="#1c1c1c" stroke-width="1.1"/>
<line x1="89.5" y1="561.7" x2="89.5" y2="564.4" stroke="#1c1c1c" stroke-width="1.1"/>
<line x1="106.5" y1="561.7" x2="106.5" y2="564.4" stroke="#1c1c1c" stroke-width="1.1"/>
<line x1="123.4" y1="561.7" x2="123.4" y2="564.4" stroke="#1c1c1c" stroke-width="1.1"/>
<text transform="translate(74.4 571.7) rotate(-45)" font-size="7.5" text-anchor="end" fill="#1c1c1c">Cyt</text>
<text transform="translate(91 571.7) rotate(-45)" font-size="7.5" text-anchor="end" fill="#1c1c1c">Cyt+VPA</text>
<text transform="translate(108 571.7) rotate(-45)" font-size="7.5" text-anchor="end" fill="#1c1c1c">Cyt+Nutlin</text>
<text transform="translate(124.9 571.7) rotate(-45)" font-size="7.5" text-anchor="end" fill="#1c1c1c">Cyt+VPA+Nutlin</text>
<text transform="translate(154 479.3)" font-size="11" text-anchor="start" fill="#111" style="stroke:#111;stroke-width:0.35px">K</text>
<line x1="204.6" y1="482.9" x2="204.6" y2="562.3" stroke="#1c1c1c" stroke-width="1.3"/>
<line x1="201.3" y1="561.7" x2="204.6" y2="561.7" stroke="#1c1c1c" stroke-width="1.1"/>
<text transform="translate(198.2 564.22)" font-size="7" text-anchor="end" fill="#1c1c1c">0.0</text>
<line x1="201.3" y1="546.6" x2="204.6" y2="546.6" stroke="#1c1c1c" stroke-width="1.1"/>
<text transform="translate(198.2 549.12)" font-size="7" text-anchor="end" fill="#1c1c1c">0.5</text>
<line x1="201.3" y1="531.5" x2="204.6" y2="531.5" stroke="#1c1c1c" stroke-width="1.1"/>
<text transform="translate(198.2 534.02)" font-size="7" text-anchor="end" fill="#1c1c1c">1.0</text>
<line x1="201.3" y1="516.4" x2="204.6" y2="516.4" stroke="#1c1c1c" stroke-width="1.1"/>
<text transform="translate(198.2 518.92)" font-size="7" text-anchor="end" fill="#1c1c1c">1.5</text>
<line x1="201.3" y1="501.3" x2="204.6" y2="501.3" stroke="#1c1c1c" stroke-width="1.1"/>
<text transform="translate(198.2 503.82)" font-size="7" text-anchor="end" fill="#1c1c1c">2.0</text>
<line x1="201.3" y1="486.2" x2="204.6" y2="486.2" stroke="#1c1c1c" stroke-width="1.1"/>
<text transform="translate(198.2 488.72)" font-size="7" text-anchor="end" fill="#1c1c1c">2.5</text>
<text transform="translate(159.3 523.5) rotate(-90) scale(1.0044 1)" font-size="8.8" text-anchor="middle" fill="#1c1c1c">Percentage</text>
<text transform="translate(170.6 523.5) rotate(-90) scale(1.0071 1)" font-size="8.8" text-anchor="middle" fill="#1c1c1c"><tspan font-size="8.8" dy="0">CD34</tspan><tspan font-size="6.86" dy="-3.17">+</tspan><tspan font-size="8.8" dy="3.17">CD90</tspan><tspan font-size="6.86" dy="-3.17">+</tspan><tspan font-size="8.8" dy="3.17"> cells</tspan></text>
<text transform="translate(181.9 523.5) rotate(-90) scale(1.0459 1)" font-size="8.8" text-anchor="middle" fill="#1c1c1c">relative fold change</text>
<rect x="207.4" y="560.2" width="11.6" height="0.9" fill="#555"/>
<line x1="210.7" y1="560.1" x2="215.7" y2="560.1" stroke="#222" stroke-width="0.9"/>
<rect x="225" y="531.1" width="11.3" height="30.6" fill="#a1002a"/>
<rect x="242.3" y="560" width="10.9" height="1.7" fill="#2e4d82"/>
<line x1="247.6" y1="560" x2="247.6" y2="558.5" stroke="#1c1c1c" stroke-width="1.1"/>
<line x1="245.4" y1="558.5" x2="249.8" y2="558.5" stroke="#1c1c1c" stroke-width="1.1"/>
<rect x="259.7" y="505.6" width="11.3" height="56.1" fill="#6aa642"/>
<line x1="265.3" y1="505.6" x2="265.3" y2="495.6" stroke="#1c1c1c" stroke-width="1.1"/>
<line x1="262.9" y1="495.6" x2="267.7" y2="495.6" stroke="#1c1c1c" stroke-width="1.1"/>
<polyline points="230.3,525.5 230.3,486.6 265.3,486.6 265.3,491.9" fill="none" stroke="#3a3a3a" stroke-width="1.15" stroke-linejoin="miter"/>
<line x1="227.1" y1="525.5" x2="233.5" y2="525.5" stroke="#3a3a3a" stroke-width="1.15"/>
<line x1="262.3" y1="491.9" x2="268.3" y2="491.9" stroke="#3a3a3a" stroke-width="1.15"/>
<path d="M245.4 482.8 l0 2.2 M244.45 483.35 l1.9 1.1 M246.35 483.35 l-1.9 1.1" stroke="#1a1a1a" stroke-width="0.9"/>
<path d="M249 482.8 l0 2.2 M248.05 483.35 l1.9 1.1 M249.95 483.35 l-1.9 1.1" stroke="#1a1a1a" stroke-width="0.9"/>
<line x1="204" y1="561.7" x2="277.4" y2="561.7" stroke="#1c1c1c" stroke-width="1.3"/>
<line x1="213.2" y1="561.7" x2="213.2" y2="564.4" stroke="#1c1c1c" stroke-width="1.1"/>
<line x1="230.3" y1="561.7" x2="230.3" y2="564.4" stroke="#1c1c1c" stroke-width="1.1"/>
<line x1="247.6" y1="561.7" x2="247.6" y2="564.4" stroke="#1c1c1c" stroke-width="1.1"/>
<line x1="265.3" y1="561.7" x2="265.3" y2="564.4" stroke="#1c1c1c" stroke-width="1.1"/>
<text transform="translate(214.7 571.7) rotate(-45)" font-size="7.5" text-anchor="end" fill="#1c1c1c">Cyt</text>
<text transform="translate(231.8 571.7) rotate(-45)" font-size="7.5" text-anchor="end" fill="#1c1c1c">Cyt+VPA</text>
<text transform="translate(249.1 571.7) rotate(-45)" font-size="7.5" text-anchor="end" fill="#1c1c1c">Cyt+NAC</text>
<text transform="translate(266.8 571.7) rotate(-45)" font-size="7.5" text-anchor="end" fill="#1c1c1c">Cyt+VPA+NAC</text>
<text transform="translate(298.7 478.9)" font-size="11" text-anchor="start" fill="#111" style="stroke:#111;stroke-width:0.35px">L</text>
<line x1="336" y1="486.5" x2="336" y2="561.9" stroke="#1c1c1c" stroke-width="1.3"/>
<line x1="332.7" y1="561.3" x2="336" y2="561.3" stroke="#1c1c1c" stroke-width="1.1"/>
<text transform="translate(329.7 563.82)" font-size="7" text-anchor="end" fill="#1c1c1c">0.0</text>
<line x1="332.7" y1="537.2" x2="336" y2="537.2" stroke="#1c1c1c" stroke-width="1.1"/>
<text transform="translate(329.7 539.72)" font-size="7" text-anchor="end" fill="#1c1c1c">1.0</text>
<line x1="332.7" y1="513.1" x2="336" y2="513.1" stroke="#1c1c1c" stroke-width="1.1"/>
<text transform="translate(329.7 515.62)" font-size="7" text-anchor="end" fill="#1c1c1c">2.0</text>
<line x1="332.7" y1="489" x2="336" y2="489" stroke="#1c1c1c" stroke-width="1.1"/>
<text transform="translate(329.7 491.52)" font-size="7" text-anchor="end" fill="#1c1c1c">3.0</text>
<text transform="translate(301.6 522.6) rotate(-90) scale(1.0636 1)" font-size="8.8" text-anchor="middle" fill="#1c1c1c">Mitochondrial mass</text>
<text transform="translate(312.2 523.4) rotate(-90) scale(1.0354 1)" font-size="8.8" text-anchor="middle" fill="#1c1c1c">relative fold change</text>
<line x1="343.3" y1="503.2" x2="343.3" y2="509" stroke="#1c1c1c" stroke-width="1.1"/>
<line x1="343.3" y1="528.2" x2="343.3" y2="530.1" stroke="#1c1c1c" stroke-width="1.1"/>
<line x1="341.3" y1="503.2" x2="345.3" y2="503.2" stroke="#1c1c1c" stroke-width="1.1"/>
<line x1="341.3" y1="530.1" x2="345.3" y2="530.1" stroke="#1c1c1c" stroke-width="1.1"/>
<rect x="338.5" y="509" width="9.6" height="19.2" fill="#808080" stroke="#2a2a2a" stroke-width="0.5"/>
<line x1="338.5" y1="523.9" x2="348.1" y2="523.9" stroke="#1c1c1c" stroke-width="1.4"/>
<circle cx="343.3" cy="503.4" r="0.9" fill="#111"/>
<circle cx="343.3" cy="509.5" r="0.9" fill="#111"/>
<circle cx="341.3" cy="528" r="0.9" fill="#111"/>
<circle cx="345.3" cy="529" r="0.9" fill="#111"/>
<circle cx="344.3" cy="523" r="0.9" fill="#111"/>
<rect x="352.3" y="535.8" width="10.6" height="3" fill="#d88a9c"/>
<line x1="352.6" y1="537.3" x2="362.6" y2="537.3" stroke="#000" stroke-width="1.3"/>
<line x1="372.1" y1="502.1" x2="372.1" y2="505.7" stroke="#1c1c1c" stroke-width="1.1"/>
<line x1="372.1" y1="523.6" x2="372.1" y2="528.6" stroke="#1c1c1c" stroke-width="1.1"/>
<line x1="370.1" y1="502.1" x2="374.1" y2="502.1" stroke="#1c1c1c" stroke-width="1.1"/>
<line x1="370.1" y1="528.6" x2="374.1" y2="528.6" stroke="#1c1c1c" stroke-width="1.1"/>
<rect x="367.4" y="505.7" width="9.4" height="17.9" fill="#55286a" stroke="#2a2a2a" stroke-width="0.5"/>
<line x1="367.4" y1="516.3" x2="376.8" y2="516.3" stroke="#1c1c1c" stroke-width="1.4"/>
<circle cx="372.1" cy="502.4" r="0.9" fill="#111"/>
<circle cx="372.1" cy="510.5" r="0.9" fill="#111"/>
<circle cx="372.1" cy="516.5" r="0.9" fill="#111"/>
<circle cx="372.1" cy="528.2" r="0.9" fill="#111"/>
<ellipse cx="386.9" cy="536.3" rx="4.6" ry="1.8" fill="#da8a16"/>
<line x1="382.5" y1="536.3" x2="391.3" y2="536.3" stroke="#1c1c1c" stroke-width="1.2"/>
<circle cx="384.4" cy="535" r="0.8" fill="#111"/>
<circle cx="386.9" cy="534.6" r="0.8" fill="#111"/>
<circle cx="389.4" cy="535.2" r="0.8" fill="#111"/>
<circle cx="385.4" cy="537.5" r="0.8" fill="#111"/>
<circle cx="388.4" cy="537.6" r="0.8" fill="#111"/>
<polyline points="356.9,530.1 356.9,493.1 387.7,493.1 387.7,527.9" fill="none" stroke="#3a3a3a" stroke-width="1.15" stroke-linejoin="miter"/>
<text transform="translate(372.7 491.2)" font-size="7" text-anchor="middle" fill="#1c1c1c">ns</text>
<line x1="335.4" y1="561.3" x2="396.8" y2="561.3" stroke="#1c1c1c" stroke-width="1.3"/>
<line x1="343.4" y1="561.3" x2="343.4" y2="564" stroke="#1c1c1c" stroke-width="1.1"/>
<line x1="357.3" y1="561.3" x2="357.3" y2="564" stroke="#1c1c1c" stroke-width="1.1"/>
<line x1="372.1" y1="561.3" x2="372.1" y2="564" stroke="#1c1c1c" stroke-width="1.1"/>
<line x1="386.9" y1="561.3" x2="386.9" y2="564" stroke="#1c1c1c" stroke-width="1.1"/>
<text transform="translate(344.9 571.3) rotate(-45)" font-size="7.5" text-anchor="end" fill="#1c1c1c">Cyt</text>
<text transform="translate(358.8 571.3) rotate(-45)" font-size="7.5" text-anchor="end" fill="#1c1c1c">Cyt+VPA</text>
<text transform="translate(373.6 571.3) rotate(-45)" font-size="7.5" text-anchor="end" fill="#1c1c1c">Cyt+Nutlin</text>
<text transform="translate(388.4 571.3) rotate(-45)" font-size="7.5" text-anchor="end" fill="#1c1c1c">Cyt+VPA+Nutlin</text>
<text transform="translate(414.6 478.7)" font-size="11" text-anchor="start" fill="#111" style="stroke:#111;stroke-width:0.35px">M</text>
<line x1="454.9" y1="486.1" x2="454.9" y2="561.9" stroke="#1c1c1c" stroke-width="1.3"/>
<line x1="451.6" y1="561.3" x2="454.9" y2="561.3" stroke="#1c1c1c" stroke-width="1.1"/>
<text transform="translate(448.2 563.96)" font-size="7.4" text-anchor="end" fill="#1c1c1c">0.0</text>
<line x1="451.6" y1="537.25" x2="454.9" y2="537.25" stroke="#1c1c1c" stroke-width="1.1"/>
<text transform="translate(448.2 539.91)" font-size="7.4" text-anchor="end" fill="#1c1c1c">0.5</text>
<line x1="451.6" y1="513.2" x2="454.9" y2="513.2" stroke="#1c1c1c" stroke-width="1.1"/>
<text transform="translate(448.2 515.86)" font-size="7.4" text-anchor="end" fill="#1c1c1c">1.0</text>
<line x1="451.6" y1="489.15" x2="454.9" y2="489.15" stroke="#1c1c1c" stroke-width="1.1"/>
<text transform="translate(448.2 491.81)" font-size="7.4" text-anchor="end" fill="#1c1c1c">1.5</text>
<text transform="translate(420.6 522) rotate(-90) scale(1.1676 1)" font-size="8.8" text-anchor="middle" fill="#1c1c1c">Mitochondrial O<tspan font-size="6.2" dy="-3.2">&#8226;</tspan><tspan font-size="6.2" dx="-2.9" dy="6.4">2</tspan></text>
<text transform="translate(431.9 523) rotate(-90) scale(1.0459 1)" font-size="8.8" text-anchor="middle" fill="#1c1c1c">relative fold change</text>
<line x1="458.3" y1="512.9" x2="470.8" y2="512.9" stroke="#1c1c1c" stroke-width="1.6"/>
<line x1="483.7" y1="518.7" x2="483.7" y2="519.9" stroke="#1c1c1c" stroke-width="1.1"/>
<line x1="483.7" y1="539.8" x2="483.7" y2="544.3" stroke="#1c1c1c" stroke-width="1.1"/>
<line x1="481.1" y1="518.7" x2="486.3" y2="518.7" stroke="#1c1c1c" stroke-width="1.1"/>
<line x1="481.1" y1="544.3" x2="486.3" y2="544.3" stroke="#1c1c1c" stroke-width="1.1"/>
<rect x="477.2" y="519.9" width="13" height="19.9" fill="#da8a16" stroke="#2a2a2a" stroke-width="0.5"/>
<line x1="477.2" y1="534.8" x2="490.2" y2="534.8" stroke="#1c1c1c" stroke-width="1.8"/>
<circle cx="483.7" cy="519.2" r="0.9" fill="#111"/>
<circle cx="483.7" cy="528.6" r="0.9" fill="#111"/>
<circle cx="483.7" cy="534.5" r="0.9" fill="#111"/>
<circle cx="483.7" cy="539.5" r="0.9" fill="#111"/>
<line x1="503.3" y1="534.8" x2="503.3" y2="536.3" stroke="#1c1c1c" stroke-width="1.1"/>
<line x1="503.3" y1="547" x2="503.3" y2="554" stroke="#1c1c1c" stroke-width="1.1"/>
<line x1="500.8" y1="534.8" x2="505.8" y2="534.8" stroke="#1c1c1c" stroke-width="1.1"/>
<line x1="500.8" y1="554" x2="505.8" y2="554" stroke="#1c1c1c" stroke-width="1.1"/>
<rect x="497" y="536.3" width="12.6" height="10.7" fill="#6cb04a" stroke="#2a2a2a" stroke-width="0.5"/>
<line x1="497" y1="540.9" x2="509.6" y2="540.9" stroke="#1c1c1c" stroke-width="1.8"/>
<circle cx="503.3" cy="535" r="0.9" fill="#111"/>
<circle cx="503.3" cy="538.5" r="0.9" fill="#111"/>
<circle cx="503.3" cy="545.5" r="0.9" fill="#111"/>
<circle cx="503.3" cy="553.6" r="0.9" fill="#111"/>
<polyline points="466.5,512.6 466.5,495.7 503.8,495.7 503.8,528.6" fill="none" stroke="#1c1c1c" stroke-width="1.1" stroke-linejoin="miter"/>
<polyline points="466.5,506.1 483.9,506.1 483.9,515.5" fill="none" stroke="#1c1c1c" stroke-width="1.1" stroke-linejoin="miter"/>
<path d="M472.2 502.1 l0 2.2 M471.25 502.65 l1.9 1.1 M473.15 502.65 l-1.9 1.1" stroke="#1a1a1a" stroke-width="0.9"/>
<path d="M475.8 502.1 l0 2.2 M474.85 502.65 l1.9 1.1 M476.75 502.65 l-1.9 1.1" stroke="#1a1a1a" stroke-width="0.9"/>
<path d="M479.4 502.1 l0 2.2 M478.45 502.65 l1.9 1.1 M480.35 502.65 l-1.9 1.1" stroke="#1a1a1a" stroke-width="0.9"/>
<path d="M480.4 492.7 l0 2.2 M479.45 493.25 l1.9 1.1 M481.35 493.25 l-1.9 1.1" stroke="#1a1a1a" stroke-width="0.9"/>
<path d="M484 492.7 l0 2.2 M483.05 493.25 l1.9 1.1 M484.95 493.25 l-1.9 1.1" stroke="#1a1a1a" stroke-width="0.9"/>
<path d="M487.6 492.7 l0 2.2 M486.65 493.25 l1.9 1.1 M488.55 493.25 l-1.9 1.1" stroke="#1a1a1a" stroke-width="0.9"/>
<path d="M491.2 492.7 l0 2.2 M490.25 493.25 l1.9 1.1 M492.15 493.25 l-1.9 1.1" stroke="#1a1a1a" stroke-width="0.9"/>
<line x1="454.3" y1="561.3" x2="512.5" y2="561.3" stroke="#1c1c1c" stroke-width="1.3"/>
<line x1="464.3" y1="561.3" x2="464.3" y2="564" stroke="#1c1c1c" stroke-width="1.1"/>
<line x1="483.7" y1="561.3" x2="483.7" y2="564" stroke="#1c1c1c" stroke-width="1.1"/>
<line x1="503.3" y1="561.3" x2="503.3" y2="564" stroke="#1c1c1c" stroke-width="1.1"/>
<text transform="translate(465.8 571.3) rotate(-45)" font-size="7.5" text-anchor="end" fill="#1c1c1c">Cyt+VPA</text>
<text transform="translate(485.2 571.3) rotate(-45)" font-size="7.5" text-anchor="end" fill="#1c1c1c">Cyt+VPA+Nutlin</text>
<text transform="translate(504.8 571.3) rotate(-45)" font-size="7.5" text-anchor="end" fill="#1c1c1c">Cyt+VPA+NAC</text>
<rect x="0" y="0" width="520" height="1.1" fill="#111"/>
<rect x="0" y="0" width="1.1" height="620" fill="#111"/>
<rect x="518.7" y="0" width="1.3" height="620" fill="#151515"/>
<rect x="0" y="618.75" width="520" height="1.25" fill="#151515"/>
</svg>
</body></html>
